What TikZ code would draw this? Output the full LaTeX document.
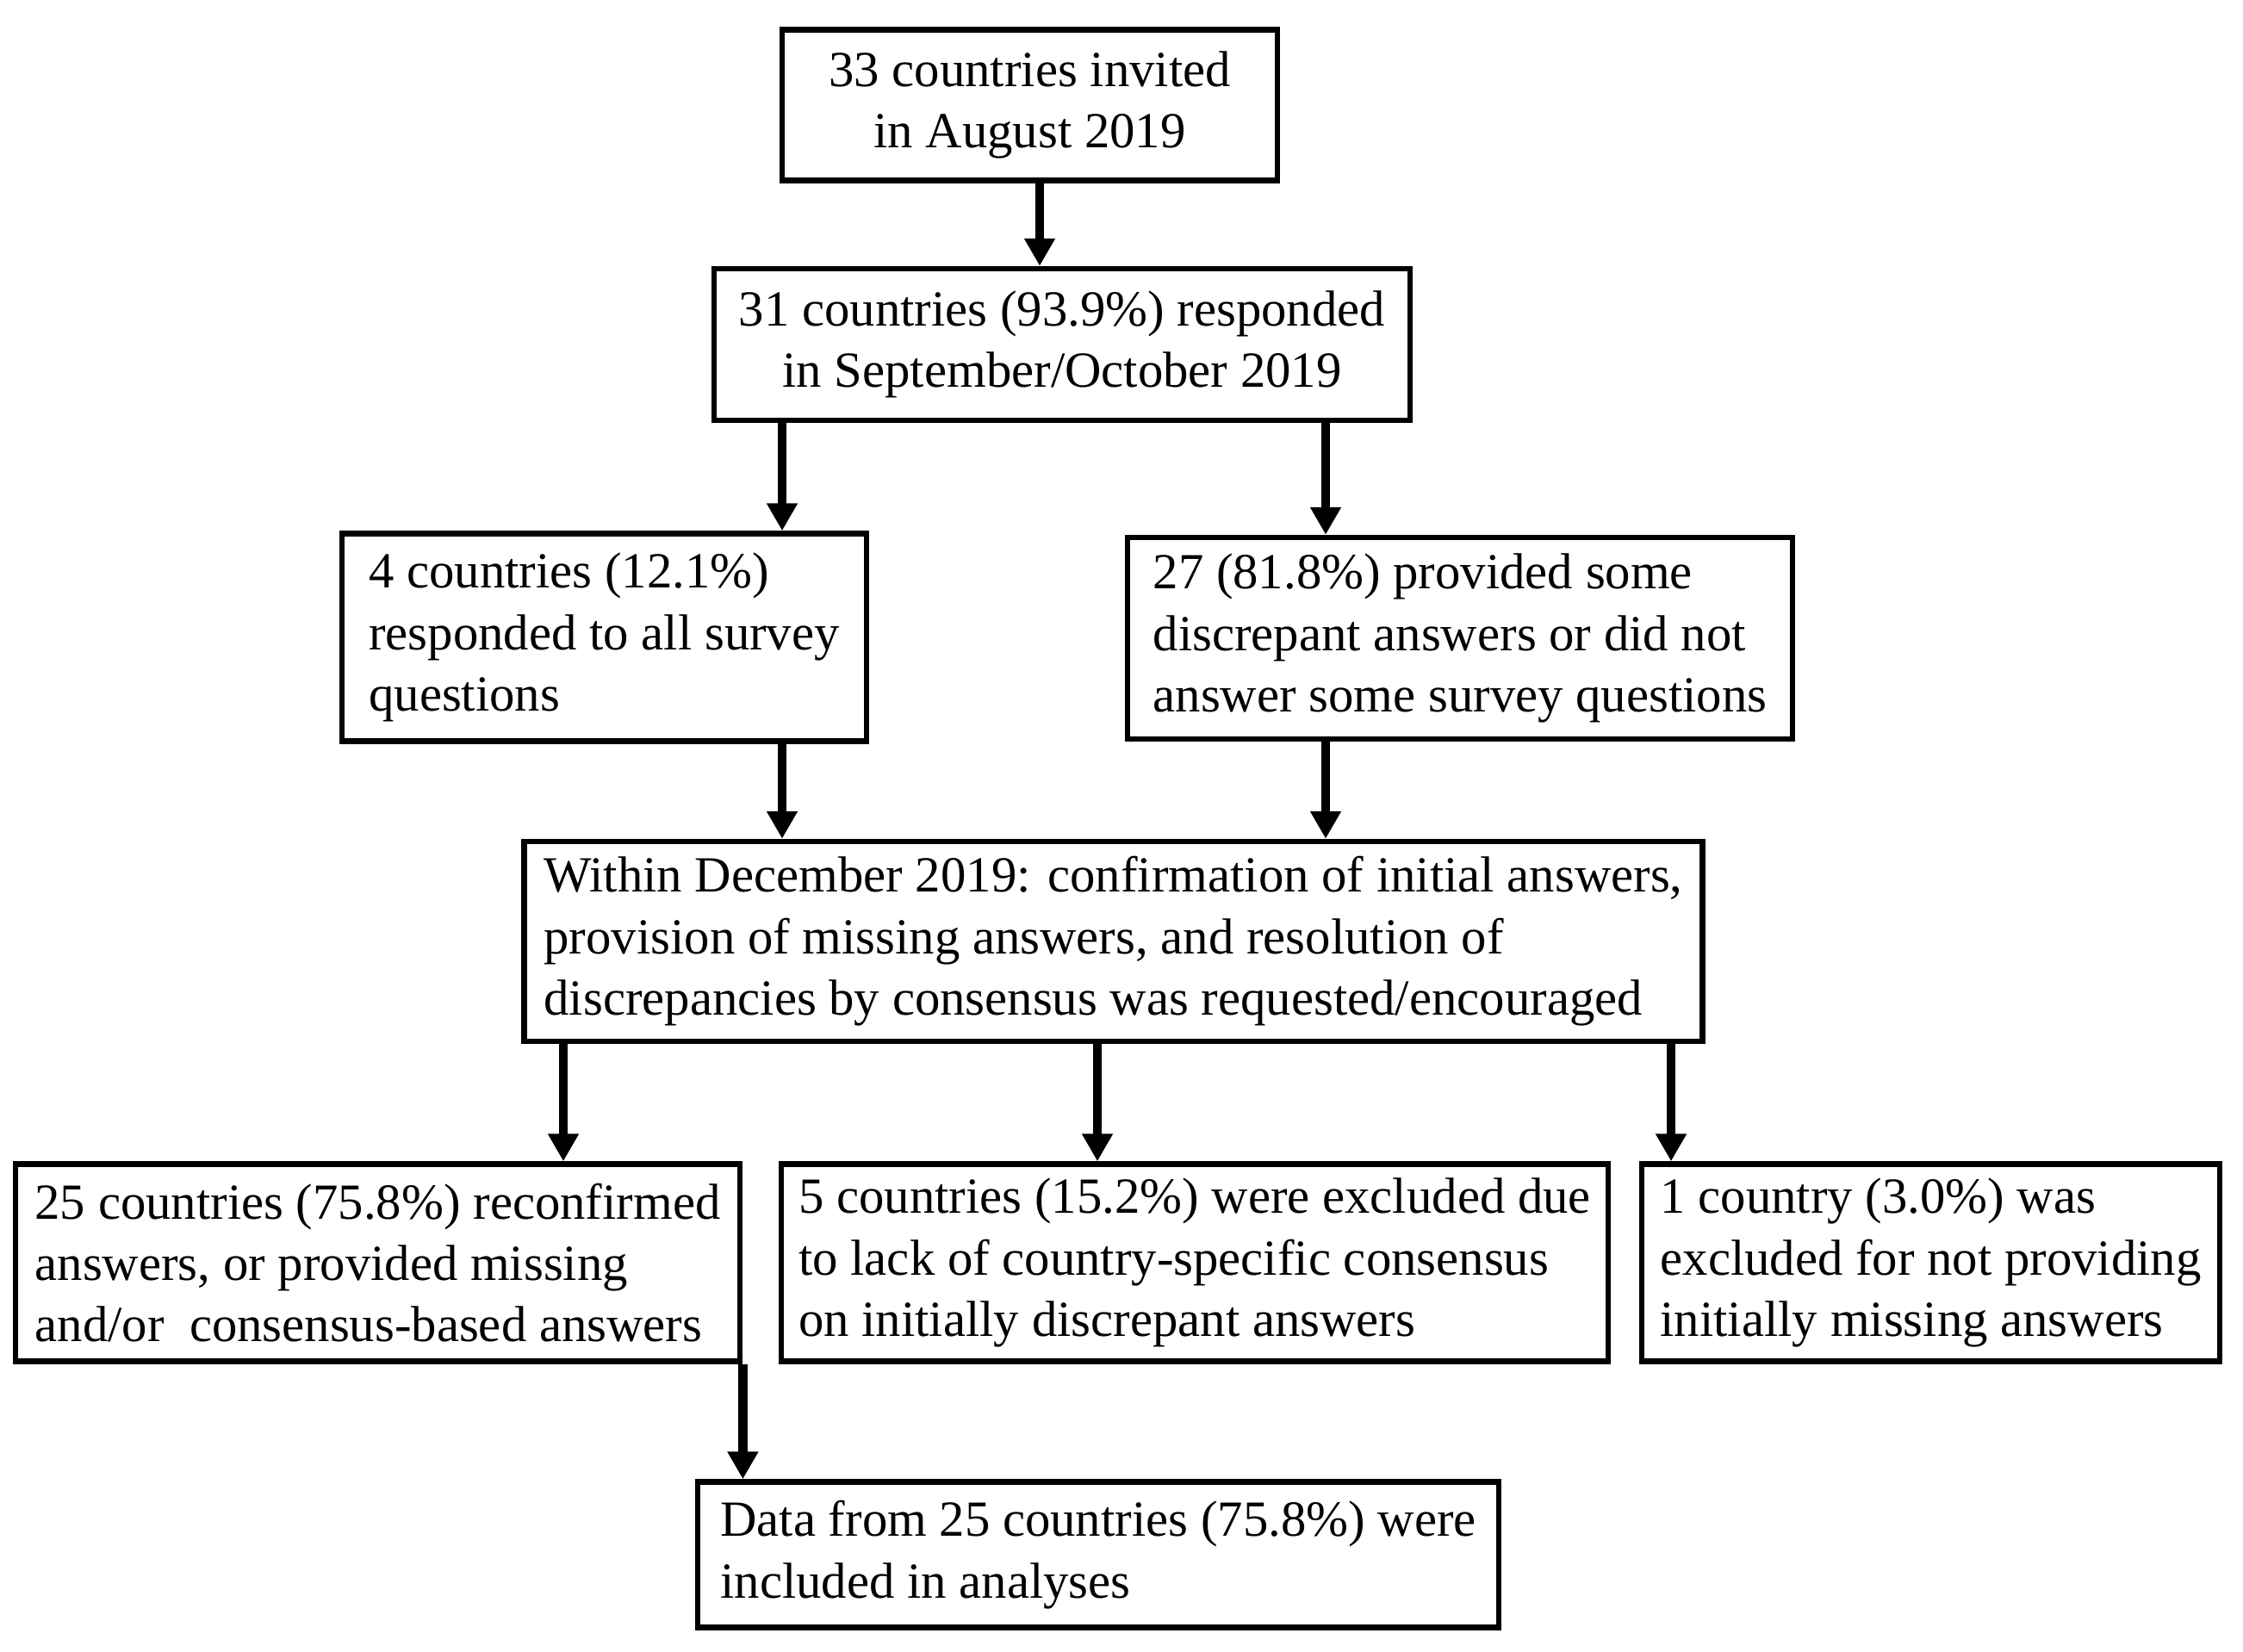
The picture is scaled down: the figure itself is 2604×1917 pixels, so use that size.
\documentclass[tikz,border=0pt]{standalone}
\usepackage{fontspec}
\setmainfont{Liberation Serif}
\usetikzlibrary{arrows.meta}

\begin{document}
\begin{tikzpicture}[x=0.01cm, y=-0.01cm,
	box/.style={draw, line width=1.8pt, align=left, inner sep=0pt,
		font=\fontsize{16.7}{20.3}\selectfont},
	arr/.style={line width=2.9pt, -{Triangle[length=0.32cm,width=0.34cm]}}]
	\useasboundingbox (0,0) rectangle (2604,1917);
	\node[box, align=center, minimum width=5.75cm, minimum height=1.75cm] (inv) at (1195.5,122)
		{33 countries invited\\ in August 2019};
	\node[box, align=center, minimum width=8.08cm, minimum height=1.76cm] (resp) at (1233,400)
		{31 countries (93.9\%) responded\\ in September/October 2019};
	\node[box, minimum width=6.09cm, minimum height=2.41cm] (all) at (701.5,740)
		{4 countries (12.1\%)\\ responded to all survey\\ questions};
	\node[box, minimum width=7.72cm, minimum height=2.34cm] (some) at (1695,741)
		{27 (81.8\%) provided some\\ discrepant answers or did not\\ answer some survey questions};
	\node[box, minimum width=13.67cm, minimum height=2.32cm] (dec) at (1292.5,1093)
		{Within December 2019: confirmation of initial answers,\\
		 provision of missing answers, and resolution of\\
		 discrepancies by consensus was requested/encouraged};
	\node[box, minimum width=8.41cm, minimum height=2.29cm] (conf) at (438.5,1466)
		{25 countries (75.8\%) reconfirmed\\ answers, or provided missing\\ and/or \ consensus-based answers};
	\node[box, minimum width=9.60cm, minimum height=2.29cm] (excl) at (1387,1466)
		{5 countries (15.2\%) were excluded due\\ to lack of country-specific consensus\\ on initially discrepant answers};
	\node[box, minimum width=6.71cm, minimum height=2.29cm] (miss) at (2241.5,1466)
		{1 country (3.0\%) was\\ excluded for not providing\\ initially missing answers};
	\node[box, minimum width=9.30cm, minimum height=1.69cm] (data) at (1275,1805)
		{Data from 25 countries (75.8\%) were\\ included in analyses};

	\path[arr]
		(inv.south -| 1207,0) edge (resp.north -| 1207,0)
		(resp.south -| 908,0) edge (all.north -| 908,0)
		(resp.south -| 1539,0) edge (some.north -| 1539,0)
		(all.south -| 908,0) edge (dec.north -| 908,0)
		(some.south -| 1539,0) edge (dec.north -| 1539,0)
		(dec.south -| 654,0) edge (conf.north -| 654,0)
		(dec.south -| 1274,0) edge (excl.north -| 1274,0)
		(dec.south -| 1940,0) edge (miss.north -| 1940,0)
		(conf.south east) edge (data.north -| conf.south east);
\end{tikzpicture}
\end{document}
